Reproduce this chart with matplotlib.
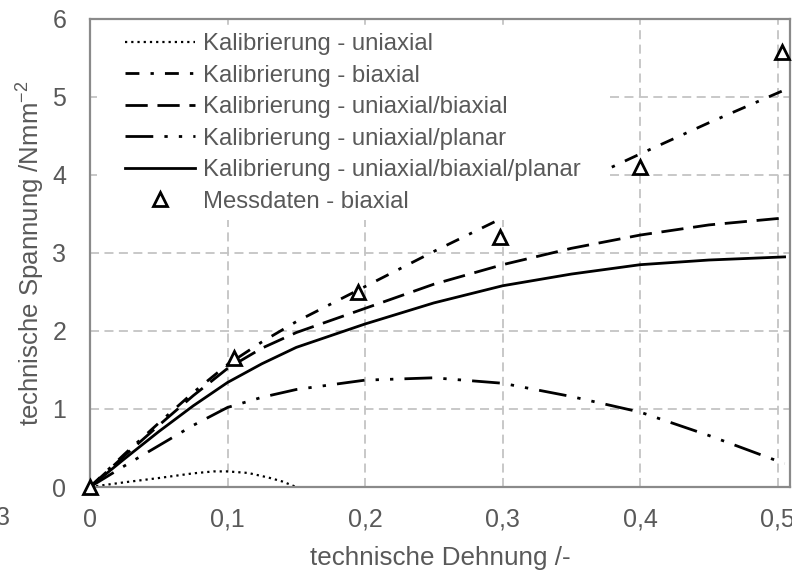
import matplotlib.pyplot as plt
from matplotlib.patches import Rectangle

plt.rcParams['font.family'] = ['Liberation Sans', 'DejaVu Sans']
plt.rcParams['mathtext.fontset'] = 'custom'
plt.rcParams['mathtext.rm'] = 'Liberation Sans'
plt.rcParams['mathtext.it'] = 'Liberation Sans'

# Kalibrierkurven (technische Dehnung / technische Spannung)
strain = [0, 0.025, 0.05, 0.075, 0.1, 0.125, 0.15, 0.2, 0.25, 0.3, 0.35,
          0.4, 0.45, 0.505]
cal_biaxial = [0, 0.42, 0.82, 1.21, 1.57, 1.86, 2.12, 2.57, 3.02, 3.45,
               3.86, 4.27, 4.67, 5.09]
cal_uni_bi = [0, 0.4, 0.79, 1.17, 1.52, 1.78, 1.98, 2.29, 2.6, 2.85, 3.06,
              3.23, 3.36, 3.45]
cal_uni_planar = [0, 0.27, 0.53, 0.79, 1.02, 1.15, 1.25, 1.37, 1.40, 1.33,
                  1.16, 0.96, 0.66, 0.3]
cal_uni_bi_planar = [0, 0.36, 0.71, 1.04, 1.34, 1.58, 1.79, 2.09, 2.36,
                     2.58, 2.73, 2.85, 2.91, 2.95]

strain_uni = [0, 0.025, 0.05, 0.075, 0.09, 0.1, 0.115, 0.13, 0.14, 0.15, 0.16]
cal_uniaxial = [0, 0.06, 0.115, 0.175, 0.2, 0.2, 0.18, 0.12, 0.07, 0.0, -0.1]

# Messdaten biaxial
meas_strain = [0, 0.105, 0.195, 0.298, 0.4, 0.503]
meas_stress = [0, 1.65, 2.5, 3.2, 4.1, 5.58]

gray = '#595959'

fig = plt.figure(figsize=(7.92, 5.72), dpi=100)
ax = fig.add_axes([0.1136, 0.1486, 0.884, 0.8182])

ax.plot(strain_uni, cal_uniaxial, color='black', lw=1.6, ls=(0, (1, 1.8)),
        label='Kalibrierung - uniaxial')
ax.plot(strain, cal_biaxial, color='black', lw=2, ls=(0, (5, 4, 1.2, 4)),
        label='Kalibrierung - biaxial')
ax.plot(strain, cal_uni_bi, color='black', lw=2, ls=(0, (8, 3.5)),
        label='Kalibrierung - uniaxial/biaxial')
ax.plot(strain, cal_uni_planar, color='black', lw=2,
        ls=(0, (10, 4, 1.2, 4, 1.2, 4)),
        label='Kalibrierung - uniaxial/planar')
ax.plot(strain, cal_uni_bi_planar, color='black', lw=2,
        label='Kalibrierung - uniaxial/biaxial/planar')
ax.plot(meas_strain, meas_stress, ls='none', marker='^', ms=10,
        mfc='white', mec='black', mew=2, label='Messdaten - biaxial',
        clip_on=False, zorder=5)

ax.set_xlim(0, 0.509)
ax.set_ylim(0, 6)
ax.set_xticks([0, 0.1, 0.2, 0.3, 0.4, 0.5])
ax.set_xticklabels(['0', '0,1', '0,2', '0,3', '0,4', '0,5'])
ax.set_yticks(range(7))

ax.grid(True, color='#c4c4c4', ls=(0, (5, 3)), lw=1.3)
ax.set_axisbelow(True)
for s in ax.spines.values():
    s.set_color('#8a8a8a')
    s.set_linewidth(1.6)

ax.tick_params(length=0, labelsize=18, labelcolor=gray)
ax.tick_params(axis='x', pad=15)
ax.tick_params(axis='y', pad=17)

ax.set_xlabel('technische Dehnung /-', fontsize=18.7, color=gray,
              labelpad=10.5)
ax.set_ylabel(r'technische Spannung /Nmm$^{-2}$', fontsize=18.5, color=gray,
              labelpad=4)

# weisser Hintergrund der Legende
ax.add_patch(Rectangle((0.01, 0.57), 0.729, 0.417, transform=ax.transAxes,
                       facecolor='white', edgecolor='none', zorder=3))

leg = ax.legend(loc='upper left', bbox_to_anchor=(0.05, 0.97), fontsize=17.2,
                frameon=False, handlelength=2.95, handletextpad=0.3,
                labelspacing=0.4, borderpad=0, borderaxespad=0)
leg.set_zorder(6)
for t in leg.get_texts():
    t.set_color(gray)

fig.text(10 / 792, 0.094, '3', ha='right', va='center', fontsize=18,
         color=gray)

fig.savefig('out.png', dpi=100)
